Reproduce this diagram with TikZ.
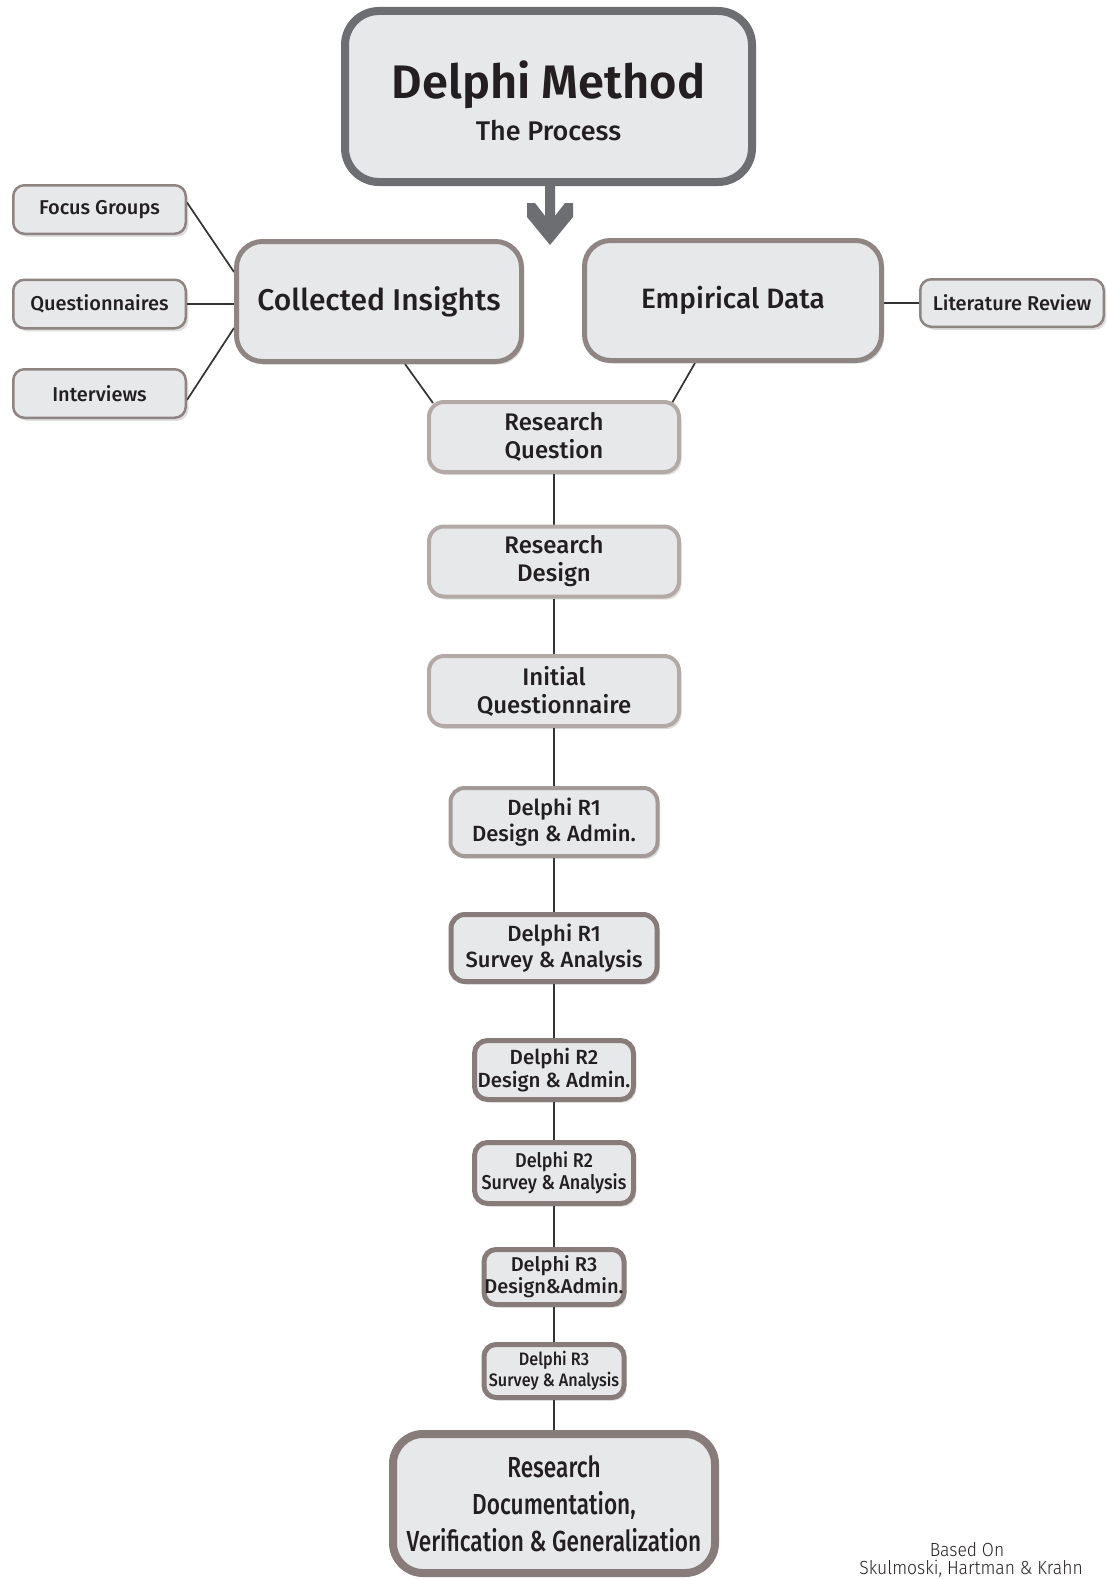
\documentclass[tikz,border=0pt]{standalone}
\usepackage{fontspec}
\setmainfont{Fira Sans}
\newfontfamily\medf{Fira Sans Medium}
\newfontfamily\semif{Fira Sans SemiBold}
\newfontfamily\condf{Fira Sans Medium}[FakeStretch=0.9]
\newfontfamily\condff{Fira Sans Medium}[FakeStretch=0.78]
\newfontfamily\lightf{Fira Sans Light}[FakeStretch=0.92]
\usetikzlibrary{calc,shadows,backgrounds}
\definecolor{boxfill}{HTML}{E7E8EA}
\definecolor{titleborder}{HTML}{6D6E71}
\definecolor{bigborder}{HTML}{8F8583}
\definecolor{midborder}{HTML}{B3AAA7}
\definecolor{dborder}{HTML}{A39996}
\definecolor{ddborder}{HTML}{877C79}
\definecolor{sideborder}{HTML}{8E8482}
\definecolor{txt}{HTML}{231F20}
\definecolor{linec}{HTML}{333333}
\tikzset{
  pbox/.style={rectangle, fill=boxfill, text=txt, align=center, inner sep=0pt,
    drop shadow={shadow xshift=2.5pt, shadow yshift=-3pt, opacity=0.13, fill=black}},
  sidebox/.style={pbox, draw=sideborder, line width=2.5pt, rounded corners=11pt,
    minimum width=172.5pt, minimum height=48.5pt, font=\medf\fontsize{20}{22}\selectfont},
  bigbox/.style={pbox, draw=bigborder, line width=5pt, rounded corners=26pt,
    minimum height=120pt},
  midbox/.style={pbox, draw=midborder, line width=4pt, rounded corners=15pt,
    minimum width=250pt, minimum height=70pt, font=\medf\fontsize{24}{28}\selectfont},
  conn/.style={draw=linec, line width=1.7pt},
}
\begin{document}
\begin{tikzpicture}[x=1pt,y=-1pt]
\useasboundingbox (0,0) rectangle (1107,1579);

% title
\node[pbox, draw=titleborder, line width=8pt, rounded corners=34pt,
  minimum width=407pt, minimum height=171pt] (title) at (548.5,96.5) {};
\node[text=txt, inner sep=0pt, anchor=base, font=\semif\fontsize{47}{47}\selectfont]
  (titletext) at (548.5,98) {Delphi Method};
\node[text=txt, inner sep=0pt, anchor=base, font=\medf\fontsize{27}{27}\selectfont]
  (subtext) at (548.5,140) {The Process};

% arrow
\fill[titleborder] (545,183) -- (545,216) -- (535,203) -- (527,203) -- (527,217)
  -- (550,245) -- (573,217) -- (573,203) -- (565,203) -- (555,216) -- (555,183) -- cycle;

% big boxes
\node[bigbox, minimum width=285pt, font=\medf\fontsize{30}{30}\selectfont] (ci) at (379,301.5) {Collected Insights};
\node[bigbox, minimum width=297pt, font=\medf\fontsize{28}{28}\selectfont] (ed) at (733,300.5) {Empirical Data};

% side boxes
\node[sidebox] (fg) at (99.5,209.5) {Focus Groups};
\node[sidebox] (qn) at (99.5,304) {Questionnaires};
\node[sidebox] (iv) at (99.5,393.5) {Interviews};
\node[sidebox, minimum width=183.5pt, minimum height=47.5pt] (lit) at (1012,303) {Literature Review};

% column
\node[midbox] (rq) at (554,437) {Research\\Question};
\node[midbox] (rd) at (554,561.5) {Research\\Design};
\node[midbox] (iq) at (554,691) {Initial\\Questionnaire};
\node[pbox, draw=dborder, line width=4pt, rounded corners=14pt, minimum width=207pt, minimum height=68pt,
  font=\medf\fontsize{22}{26}\selectfont] (d1a) at (554,822) {Delphi R1\\Design \& Admin.};
\node[pbox, draw=ddborder, line width=5pt, rounded corners=14pt, minimum width=206pt, minimum height=67pt,
  font=\medf\fontsize{22}{26}\selectfont] (d1s) at (554,948) {Delphi R1\\Survey \& Analysis};
\node[pbox, draw=ddborder, line width=5pt, rounded corners=13pt, minimum width=159pt, minimum height=59pt,
  font=\medf\fontsize{20.5}{23}\selectfont] (d2a) at (554,1070) {Delphi R2\\Design \& Admin.};
\node[pbox, draw=ddborder, line width=5pt, rounded corners=13pt, minimum width=159pt, minimum height=61pt,
  font=\condf\fontsize{20}{22}\selectfont] (d2s) at (554,1173) {Delphi R2\\Survey \& Analysis};
\node[pbox, draw=ddborder, line width=5pt, rounded corners=12pt, minimum width=140pt, minimum height=55pt,
  font=\medf\fontsize{20}{22}\selectfont] (d3a) at (554,1277) {Delphi R3\\Design\&Admin.};
\node[pbox, draw=ddborder, line width=5pt, rounded corners=12pt, minimum width=140pt, minimum height=53pt,
  font=\condf\fontsize{18}{21}\selectfont] (d3s) at (554,1371) {Delphi R3\\Survey \& Analysis};
\node[pbox, draw=ddborder, line width=8pt, rounded corners=30pt, minimum width=322pt, minimum height=139pt,
  font=\condff\fontsize{29}{37}\selectfont] (fin) at (554,1503.5) {Research\\Documentation,\\Verification \& Generalization};

% source
\node[text=txt, inner sep=0pt, anchor=base, font=\lightf\fontsize{19}{19}\selectfont] (src1) at (967,1556) {Based On};
\node[text=txt, inner sep=0pt, anchor=base, font=\lightf\fontsize{19}{19}\selectfont] (src2) at (971,1574) {Skulmoski, Hartman \& Krahn};

% connectors
\begin{scope}[on background layer]
\fill[white] (0,0) rectangle (1107,1579);
\draw[conn] ($(fg.east)+(0,-7)$) -- ($(ci.west)+(0,-29.5)$);
\draw[conn] (qn.east) -- (qn.east -| ci.west);
\draw[conn] ($(iv.east)+(0,6.5)$) -- ($(ci.west)+(0,26.5)$);
\draw[conn] (lit.west) -- (lit.west -| ed.east);
\draw[conn] ($(ci.south)+(26,0)$) -- ($(rq.north)+(-121,3)$);
\draw[conn] ($(ed.south)+(-38,0)$) -- ($(rq.north)+(118,3)$);
\draw[conn] (rq.south) -- (rq.south |- rd.north);
\draw[conn] (rd.south) -- (rd.south |- iq.north);
\draw[conn] (iq.south) -- (iq.south |- d1a.north);
\draw[conn] (d1a.south) -- (d1a.south |- d1s.north);
\draw[conn] (d1s.south) -- (d1s.south |- d2a.north);
\draw[conn] (d2a.south) -- (d2a.south |- d2s.north);
\draw[conn] (d2s.south) -- (d2s.south |- d3a.north);
\draw[conn] (d3a.south) -- (d3a.south |- d3s.north);
\draw[conn] (d3s.south) -- (d3s.south |- fin.north);
\end{scope}
\end{tikzpicture}
\end{document}
